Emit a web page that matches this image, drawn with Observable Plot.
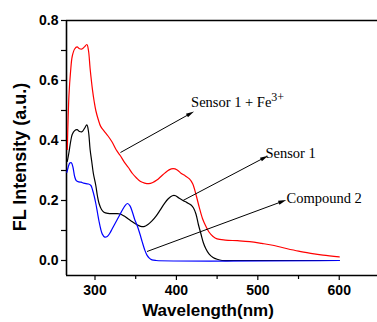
<!DOCTYPE html>
<html><head><meta charset="utf-8">
<script src="https://cdn.jsdelivr.net/npm/d3@7"></script>
<script src="https://cdn.jsdelivr.net/npm/@observablehq/plot@0.6"></script>
<style>body{margin:0;background:#fff}</style>
</head><body><div id="chart"></div>
<script>
// Sensor 1 + Fe3+ (red)
const redWl = [266,268,270,272,275,278,281,284,287,290,292,294,297,299,301,304,307,311,316,321,326,331,336,341,346,351,356,361,366,371,376,381,386,391,396,401,406,411,416,420,424,428,432,436,440,445,450,460,475,490,505,520,535,550,565,580,600];
const redFl = [0.37,0.55,0.63,0.68,0.705,0.712,0.706,0.705,0.712,0.72,0.70,0.64,0.567,0.53,0.50,0.47,0.447,0.432,0.415,0.395,0.369,0.35,0.328,0.31,0.29,0.275,0.263,0.258,0.256,0.26,0.268,0.28,0.292,0.302,0.306,0.302,0.29,0.282,0.272,0.256,0.22,0.178,0.14,0.115,0.095,0.08,0.072,0.068,0.066,0.063,0.057,0.05,0.04,0.031,0.024,0.018,0.012];
// Sensor 1 (black)
const blackWl = [266,268,270,272,275,278,281,284,287,290,292,294,296,298,301,303,305,308,311,316,321,326,331,336,341,346,351,356,360,365,370,375,380,385,390,395,399,403,408,413,418,421,424,427,430,433,436,440,445,450,456,470,600];
const blackFl = [0.33,0.36,0.395,0.42,0.433,0.436,0.43,0.429,0.44,0.452,0.43,0.37,0.33,0.29,0.25,0.215,0.19,0.17,0.161,0.157,0.156,0.156,0.155,0.148,0.138,0.129,0.12,0.114,0.113,0.12,0.132,0.148,0.168,0.189,0.206,0.216,0.216,0.208,0.2,0.193,0.185,0.175,0.155,0.12,0.09,0.06,0.04,0.022,0.01,0.004,0,0,0];
// Compound 2 (blue)
const blueWl = [265.5,267,269,271,273,275,277,280,283,286,289,292,295,297,299,301,303,305,307,309,312,315,318,321,325,330,334,337,340,343,346,349,352,355,358,361,364,367,370,375,600];
const blueFl = [0.294,0.31,0.325,0.326,0.31,0.28,0.266,0.262,0.261,0.258,0.256,0.255,0.25,0.235,0.215,0.19,0.16,0.13,0.105,0.088,0.078,0.08,0.09,0.105,0.125,0.15,0.17,0.183,0.19,0.182,0.161,0.135,0.115,0.09,0.062,0.036,0.017,0.007,0.002,0,0];

// annotations
const annLabels = ["Sensor 1 + Fe", "Sensor 1", "Compound 2"];
const annSup = ["3+", "", ""];
const annTextWl = [418, 509.4, 535.2];
const annTextFl = [0.528, 0.358, 0.206];
const annFromWl = [331.3, 408.1, 363.9];
const annFromFl = [0.36, 0.2, 0.03];
const annToWl = [417.3, 508.2, 530.3];
const annToFl = [0.49, 0.343, 0.197];

// axes
const xDomain = [265, 647];
const yDomain = [-0.05, 0.8];
const xMajor = [300, 400, 500, 600];
const xMinor = [350, 450, 550];
const yMajor = [0, 0.2, 0.4, 0.6, 0.8];
const yMinor = [0.1, 0.3, 0.5, 0.7];
const xTitle = "Wavelength(nm)";
const yTitle = "FL Intensity (a.u.)";

const toRows = (wl, fl) => wl.map((w, i) => ({wl: w, fl: fl[i]}));
const red = toRows(redWl, redFl), black = toRows(blackWl, blackFl), blue = toRows(blueWl, blueFl);
const arrows = annLabels.map((t, i) => ({x1: annFromWl[i], y1: annFromFl[i], x2: annToWl[i], y2: annToFl[i]}));
const labels = annLabels.map((t, i) => ({text: t, sup: annSup[i], x: annTextWl[i], y: annTextFl[i]}));

const chart = Plot.plot({
  width: 377, height: 322,
  marginLeft: 66, marginRight: 0, marginTop: 20, marginBottom: 47,
  x: {domain: xDomain},
  y: {domain: yDomain},
  style: {fontFamily: "'Liberation Sans', Arial, sans-serif", fontWeight: "bold", fontSize: "14px", color: "black", background: "white"},
  marks: [
    Plot.axisY({ticks: yMajor, tickFormat: d3.format(".1f"), tickSize: 5, tickPadding: 3, label: null, strokeWidth: 1.2}),
    Plot.axisY({ticks: yMinor, tickFormat: () => null, tickSize: 5, label: null, strokeWidth: 1.2}),
    Plot.axisX({ticks: xMajor, tickFormat: d => String(d), tickSize: 5, tickPadding: 5, label: null, strokeWidth: 1.2}),
    Plot.axisX({ticks: xMinor, tickFormat: () => null, tickSize: 4, label: null, strokeWidth: 1.2}),
    Plot.ruleX([xDomain[0]], {stroke: "black", strokeWidth: 1.6}),
    Plot.ruleY([yDomain[0]], {stroke: "black", strokeWidth: 1.6}),
    Plot.ruleY([yDomain[1]], {stroke: "black", strokeWidth: 1.6}),
    Plot.line(red, {x: "wl", y: "fl", stroke: "#ff0000", strokeWidth: 1.2, curve: "catmull-rom"}),
    Plot.line(black, {x: "wl", y: "fl", stroke: "#000000", strokeWidth: 1.2, curve: "catmull-rom"}),
    Plot.line(blue, {x: "wl", y: "fl", stroke: "#0000ff", strokeWidth: 1.2, curve: "catmull-rom"}),
    Plot.link(arrows, {x1: "x1", y1: "y1", x2: "x2", y2: "y2", stroke: "black", strokeWidth: 1, markerEnd: "arrow"}),
    Plot.text(labels, {x: "x", y: "y", text: "text", textAnchor: "start", fontFamily: "'Liberation Serif', 'Times New Roman', serif", fontWeight: "normal", fontSize: 14.5, fill: "black"}),
    Plot.text([xTitle], {frameAnchor: "bottom", textAnchor: "middle", lineAnchor: "middle", dx: -14, dy: 35, fontSize: 17, fontWeight: "bold", fill: "black"}),
    Plot.text([yTitle], {frameAnchor: "left", textAnchor: "middle", lineAnchor: "middle", rotate: -90, dx: -46, dy: 9, fontSize: 18, fontWeight: "bold", fill: "black"})
  ]
});

const svg = d3.select(chart);
svg.selectAll("marker").attr("markerWidth", 9).attr("markerHeight", 9);
svg.selectAll("marker path").attr("d", "M-4.5,-2.3L4.5,0L-4.5,2.3Z").attr("fill", "black").attr("stroke", "none");
labels.forEach(l => {
  if (!l.sup) return;
  svg.selectAll("text").filter(function() { return this.textContent === l.text; })
    .append("tspan").attr("dy", "-0.45em").attr("font-size", "12px").text(l.sup);
});
document.getElementById("chart").appendChild(chart);
</script>
</body></html>
